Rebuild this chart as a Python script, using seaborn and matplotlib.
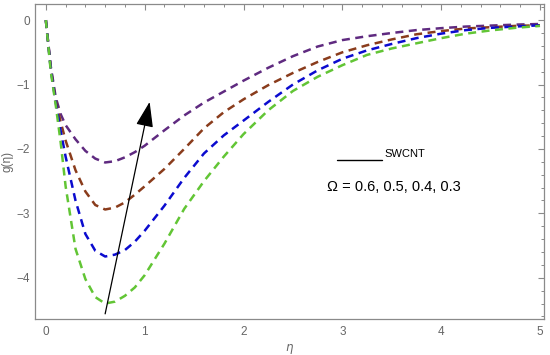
import matplotlib
matplotlib.use("Agg")
import matplotlib.pyplot as plt
import seaborn as sns
import numpy as np
import pandas as pd

sns.set_style("white")
plt.rcParams['font.family'] = ['Liberation Sans', 'DejaVu Sans']

eta = [0, 0.05, 0.1, 0.15, 0.2, 0.3, 0.4, 0.5, 0.6, 0.7, 0.8, 0.9, 1.0, 1.2, 1.4,
       1.6, 1.8, 2.0, 2.25, 2.5, 2.75, 3.0, 3.25, 3.5, 3.75, 4.0, 4.25, 4.5, 4.75, 5.0]

g_omega_06 = [0, -0.72, -1.20, -1.46, -1.63, -1.85, -2.03, -2.15, -2.21, -2.19, -2.13, -2.05, -1.95,
              -1.71, -1.48, -1.28, -1.11, -0.94, -0.74, -0.56, -0.41, -0.31, -0.25, -0.20, -0.155,
              -0.125, -0.10, -0.085, -0.07, -0.06]
g_omega_05 = [0, -0.75, -1.25, -1.58, -1.87, -2.33, -2.66, -2.87, -2.94, -2.91, -2.83, -2.71, -2.58,
              -2.31, -2.00, -1.68, -1.43, -1.23, -1.01, -0.82, -0.65, -0.50, -0.39, -0.30, -0.22,
              -0.17, -0.13, -0.11, -0.09, -0.08]
g_omega_04 = [0, -0.77, -1.28, -1.72, -2.12, -2.80, -3.32, -3.58, -3.67, -3.64, -3.57, -3.44, -3.27,
              -2.88, -2.45, -2.07, -1.79, -1.56, -1.27, -1.00, -0.78, -0.60, -0.47, -0.37, -0.28,
              -0.21, -0.155, -0.12, -0.10, -0.08]
g_omega_03 = [0, -0.80, -1.32, -1.90, -2.58, -3.55, -4.02, -4.30, -4.40, -4.37, -4.28, -4.15, -3.96,
              -3.47, -2.93, -2.50, -2.12, -1.77, -1.40, -1.10, -0.88, -0.70, -0.54, -0.44, -0.36,
              -0.28, -0.21, -0.16, -0.12, -0.09]

series = {"0.6": g_omega_06, "0.5": g_omega_05, "0.4": g_omega_04, "0.3": g_omega_03}
colors = {"0.6": "#5f2a80", "0.5": "#8a3c1c", "0.4": "#0b0bcf", "0.3": "#62c535"}

xticks = [0, 1, 2, 3, 4, 5]
yticks = [0, -1, -2, -3, -4]

fig = plt.figure(figsize=(5.5, 3.55), dpi=100)
ax = fig.add_axes([0.0636, 0.1014, 0.9254, 0.8873])

for key, vals in series.items():
    sns.lineplot(x=eta, y=vals, color=colors[key], ax=ax, linewidth=1.8,
                 linestyle=(0, (3.2, 2.2)), legend=False)

ax.set_xlim(-0.11, 5.04)
ax.set_ylim(-4.64, 0.25)

frame_col = "#8a8a8a"
for sp in ax.spines.values():
    sp.set_color(frame_col)
    sp.set_linewidth(0.9)

ax.set_xticks(xticks)
ax.set_yticks(yticks)
ax.set_xticklabels([str(t) for t in xticks])
ax.set_yticklabels([("\u2212" + str(-t)) if t < 0 else str(t) for t in yticks])
ax.set_xticks(np.arange(0, 5.01, 0.2), minor=True)
ax.set_yticks(np.arange(-4.6, 0.21, 0.2), minor=True)
ax.tick_params(which='both', direction='in', top=True, right=True, color=frame_col,
               labelcolor="#666666", labelsize=8.5)
ax.tick_params(which='major', length=4, width=0.8)
ax.tick_params(which='minor', length=2.2, width=0.7)
ax.tick_params(axis='x', pad=5)

ax.set_xlabel("\u03b7", color="#666666", fontsize=8.5, fontstyle='italic',
              family=['DejaVu Sans'], labelpad=2)
ax.set_ylabel("g(\u03b7)", color="#666666", fontsize=8.5, labelpad=2)

# arrow
ax.annotate("", xy=(1.05, -1.27), xytext=(0.6, -4.56),
            arrowprops=dict(arrowstyle='-|>,head_length=1.3,head_width=0.45',
                            color='black', lw=0.9, shrinkA=0, shrinkB=0, mutation_scale=12))

# annotation text
ax.plot([2.95, 3.40], [-2.17, -2.17], color='black', lw=1.0)
ax.text(3.43, -2.08, "SWCNT", fontsize=8, va='center', ha='left', color='black')
ax.text(2.84, -2.59, "\u03a9 = 0.6, 0.5, 0.4, 0.3", fontsize=10.5, va='center', ha='left', color='black')

fig.savefig("out.png", dpi=100)
